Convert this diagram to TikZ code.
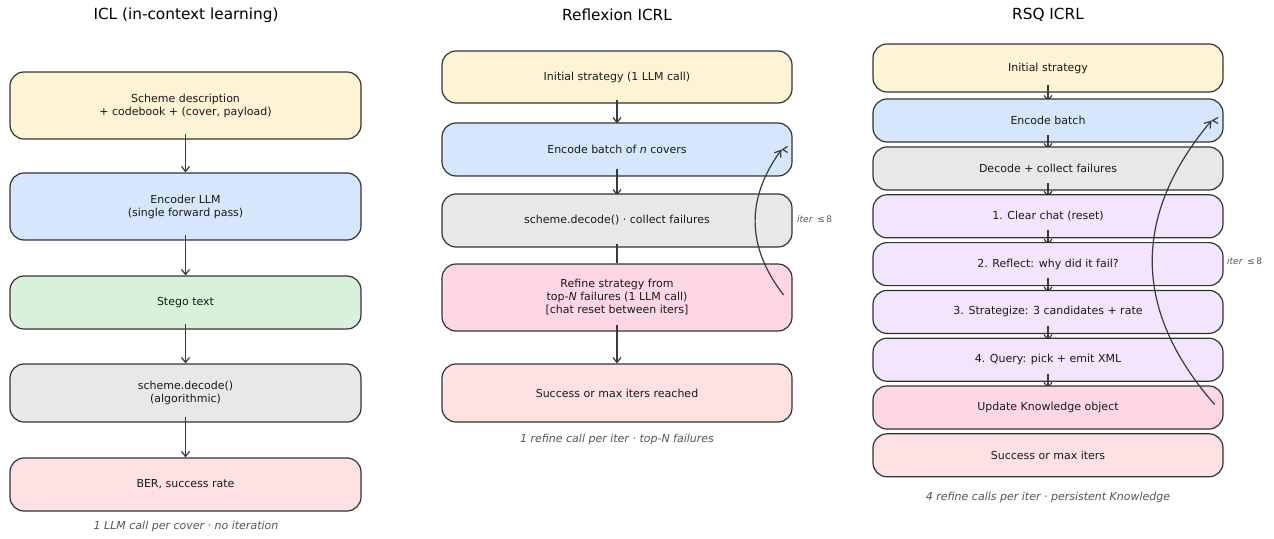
\documentclass[tikz,border=0pt]{standalone}
\usepackage{fontspec}
\setmainfont{DejaVu Sans}
\usetikzlibrary{arrows.meta,calc}

\definecolor{edge}{HTML}{333333}
\definecolor{arrowc}{HTML}{3A3A3A}
\definecolor{cyellow}{HTML}{FFF3D6}
\definecolor{cblue}{HTML}{D6E6FC}
\definecolor{cgreen}{HTML}{D9F0DA}
\definecolor{cgray}{HTML}{E8E8E8}
\definecolor{csuccess}{HTML}{FDE1E3}
\definecolor{crefine}{HTML}{FFD6E6}
\definecolor{clav}{HTML}{F2E5FD}
\definecolor{notec}{HTML}{555555}
\definecolor{textc}{HTML}{1A1A1A}

% one layer per box and one per connector, so that each connector
% lies above the box it leaves and below the box it enters
\pgfdeclarelayer{b1}\pgfdeclarelayer{a1}
\pgfdeclarelayer{b2}\pgfdeclarelayer{a2}
\pgfdeclarelayer{b3}\pgfdeclarelayer{a3}
\pgfdeclarelayer{b4}\pgfdeclarelayer{a4}
\pgfdeclarelayer{b5}\pgfdeclarelayer{a5}
\pgfdeclarelayer{b6}\pgfdeclarelayer{a6}
\pgfdeclarelayer{b7}\pgfdeclarelayer{a7}
\pgfdeclarelayer{b8}\pgfdeclarelayer{a8}
\pgfdeclarelayer{b9}
\pgfsetlayers{b1,a1,b2,a2,b3,a3,b4,a4,b5,a5,b6,a6,b7,a7,b8,a8,b9,main}

\tikzset{
  box/.style={draw=edge, line width=1.2pt, rounded corners=14pt,
    minimum width=350pt, align=center, inner sep=0pt, text=textc,
    font=\fontsize{11}{13}\selectfont},
  flow/.style={draw=arrowc, line width=1.2pt,
    -{Straight Barb[length=5pt,width=8pt,line width=1.2pt]}},
  link/.style={draw=arrowc, line width=1.2pt},
  backarc/.style={draw=arrowc, line width=1.2pt,
    -{Straight Barb[length=6pt,width=8pt,line width=1.2pt]}},
  barb/.style={draw=arrowc, line width=1.2pt},
  title/.style={font=\fontsize{15.3}{18}\selectfont, text=black},
  note/.style={font=\fontsize{11}{13}\selectfont\itshape, text=notec},
  iterlab/.style={font=\fontsize{9}{11}\selectfont, text=notec, anchor=west, inner sep=0pt},
}

\begin{document}
\begin{tikzpicture}[x=1pt, y=-1pt]
\begin{pgfonlayer}{b1}
  \fill[white] (0,0) rectangle (1274,538);
\end{pgfonlayer}
\useasboundingbox (0,0) rectangle (1274,538);

% ---------- column titles ----------
\node[title] (t1) at (186,15) {ICL (in-context learning)};
\node[title] (t2) at (617,15) {Reflexion ICRL};
\node[title] (t3) at (1048,15) {RSQ ICRL};

% ---------- ICL ----------
\begin{pgfonlayer}{b1}
\node[box, fill=cyellow, minimum width=351pt, minimum height=67pt] (i1) at (185.5,105.5)
  {Scheme description\\+ codebook + (cover, payload)};
\end{pgfonlayer}
\begin{pgfonlayer}{b2}
\node[box, fill=cblue, minimum width=351pt, minimum height=67pt] (i2) at (185.5,206.5)
  {Encoder LLM\\(single forward pass)};
\end{pgfonlayer}
\begin{pgfonlayer}{b3}
\node[box, fill=cgreen, minimum width=351pt, minimum height=53pt] (i3) at (185.5,302.5)
  {Stego text};
\end{pgfonlayer}
\begin{pgfonlayer}{b4}
\node[box, fill=cgray, minimum width=351pt, minimum height=58pt] (i4) at (185.5,393)
  {scheme.decode()\\(algorithmic)};
\end{pgfonlayer}
\begin{pgfonlayer}{b5}
\node[box, fill=csuccess, minimum width=351pt, minimum height=53pt] (i5) at (185.5,484.5)
  {BER, success rate};
\end{pgfonlayer}
\begin{pgfonlayer}{a1}\draw[flow] ($(i1.south)+(0,-6)$) -- (i2.north);\end{pgfonlayer}
\begin{pgfonlayer}{a2}\draw[flow] ($(i2.south)+(0,-6)$) -- (i3.north);\end{pgfonlayer}
\begin{pgfonlayer}{a3}\draw[flow] ($(i3.south)+(0,-6)$) -- (i4.north);\end{pgfonlayer}
\begin{pgfonlayer}{a4}\draw[flow] ($(i4.south)+(0,-6)$) -- (i5.north);\end{pgfonlayer}
\node[note] (f1) at (186,526) {1 LLM call per cover · no iteration};

% ---------- Reflexion ICRL ----------
\begin{pgfonlayer}{b1}
\node[box, fill=cyellow, minimum height=52pt] (r1) at (617,77)
  {Initial strategy (1 LLM call)};
\end{pgfonlayer}
\begin{pgfonlayer}{b2}
\node[box, fill=cblue, minimum height=53pt] (r2) at (617,149.5)
  {Encode batch of \textit{n} covers};
\end{pgfonlayer}
\begin{pgfonlayer}{b3}
\node[box, fill=cgray, minimum height=53pt] (r3) at (617,220.5)
  {scheme.decode() · collect failures};
\end{pgfonlayer}
\begin{pgfonlayer}{b4}
\node[box, fill=crefine, minimum height=67pt] (r4) at (617,297.5)
  {Refine strategy from\\top-\textit{N} failures (1 LLM call)\\{}[chat reset between iters]};
\end{pgfonlayer}
\begin{pgfonlayer}{b5}
\node[box, fill=csuccess, minimum height=58pt] (r5) at (617,393)
  {Success or max iters reached};
\end{pgfonlayer}
\begin{pgfonlayer}{a1}\draw[flow] ($(r1.south)+(0,-4)$) -- ($(r2.north)+(0,1)$);\end{pgfonlayer}
\begin{pgfonlayer}{a2}\draw[flow] ($(r2.south)+(0,-8)$) -- ($(r3.north)+(0,2)$);\end{pgfonlayer}
\begin{pgfonlayer}{a3}\draw[link] ($(r3.south)+(0,-4)$) -- (r4.north);\end{pgfonlayer}
\begin{pgfonlayer}{a4}\draw[flow] ($(r4.south)+(0,-7)$) -- (r5.north);\end{pgfonlayer}

% iteration loop
\coordinate (rs) at ($(r4.east)+(-9,-2.5)$);
\coordinate (re) at ($(r2.east)+(-11,0)$);
\draw[backarc] (rs) .. controls ($(rs)+(-38,-49)$) and ($(re)+(-35,48)$) .. (re);
\draw[barb] ($(r2.east)+(-5,-3)$) -- ($(r2.east)+(-10,0)$) -- ($(r2.east)+(-5,3)$);
\node[iterlab] (l2) at (797,219) {\textit{iter}\hspace{0.5em}≤\,8};
\node[note] (f2) at (617,439) {1 refine call per iter · top-N failures};

% ---------- RSQ ICRL ----------
\begin{pgfonlayer}{b1}
\node[box, fill=cyellow, minimum height=48pt] (q1) at (1048,68) {Initial strategy};
\end{pgfonlayer}
\begin{pgfonlayer}{b2}
\node[box, fill=cblue, minimum height=43pt] (q2) at (1048,120.5) {Encode batch};
\end{pgfonlayer}
\begin{pgfonlayer}{b3}
\node[box, fill=cgray, minimum height=43pt] (q3) at (1048,168.5) {Decode + collect failures};
\end{pgfonlayer}
\begin{pgfonlayer}{b4}
\node[box, fill=clav, minimum height=43pt] (q4) at (1048,216.3) {1. Clear chat (reset)};
\end{pgfonlayer}
\begin{pgfonlayer}{b5}
\node[box, fill=clav, minimum height=43pt] (q5) at (1048,264.1) {2. Reflect: why did it fail?};
\end{pgfonlayer}
\begin{pgfonlayer}{b6}
\node[box, fill=clav, minimum height=43pt] (q6) at (1048,311.9) {3. Strategize: 3 candidates + rate};
\end{pgfonlayer}
\begin{pgfonlayer}{b7}
\node[box, fill=clav, minimum height=43pt] (q7) at (1048,359.7) {4. Query: pick + emit XML};
\end{pgfonlayer}
\begin{pgfonlayer}{b8}
\node[box, fill=crefine, minimum height=43pt] (q8) at (1048,407.5) {Update Knowledge object};
\end{pgfonlayer}
\begin{pgfonlayer}{b9}
\node[box, fill=csuccess, minimum height=43pt] (q9) at (1048,455.3) {Success or max iters};
\end{pgfonlayer}
\begin{pgfonlayer}{a1}\draw[flow] ($(q1.south)+(0,-8)$) -- ($(q2.north)+(0,3)$);\end{pgfonlayer}
\begin{pgfonlayer}{a2}\draw[flow] ($(q2.south)+(0,-8)$) -- ($(q3.north)+(0,3)$);\end{pgfonlayer}
\begin{pgfonlayer}{a3}\draw[flow] ($(q3.south)+(0,-8)$) -- ($(q4.north)+(0,3)$);\end{pgfonlayer}
\begin{pgfonlayer}{a4}\draw[flow] ($(q4.south)+(0,-8)$) -- ($(q5.north)+(0,3)$);\end{pgfonlayer}
\begin{pgfonlayer}{a5}\draw[flow] ($(q5.south)+(0,-8)$) -- ($(q6.north)+(0,3)$);\end{pgfonlayer}
\begin{pgfonlayer}{a6}\draw[flow] ($(q6.south)+(0,-8)$) -- ($(q7.north)+(0,3)$);\end{pgfonlayer}
\begin{pgfonlayer}{a7}\draw[flow] ($(q7.south)+(0,-8)$) -- ($(q8.north)+(0,3)$);\end{pgfonlayer}

% iteration loop
\coordinate (qs) at ($(q8.east)+(-9,-3)$);
\coordinate (qe) at ($(q2.east)+(-12,0)$);
\draw[backarc] (qs) .. controls ($(qs)+(-83,-95)$) and ($(qe)+(-79,94)$) .. (qe);
\draw[barb] ($(q2.east)+(-5.5,-3)$) -- ($(q2.east)+(-11,0)$) -- ($(q2.east)+(-5.5,3)$);
\node[iterlab] (l3) at (1227,261) {\textit{iter}\hspace{0.5em}≤\,8};
\node[note] (f3) at (1048,497) {4 refine calls per iter · persistent Knowledge};
\end{tikzpicture}
\end{document}
